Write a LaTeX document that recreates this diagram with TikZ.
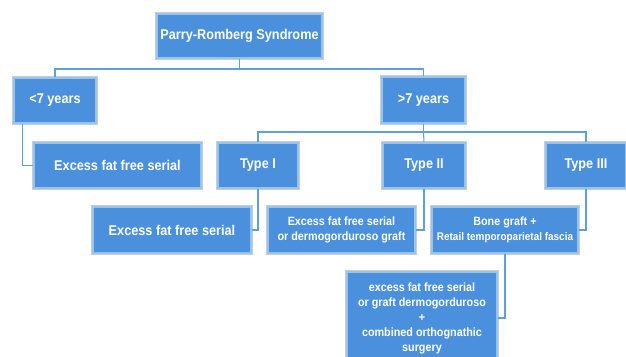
\documentclass[tikz,border=0pt]{standalone}
\usepackage{fontspec}
\setmainfont{Liberation Sans}[FakeStretch=0.9]
\usetikzlibrary{calc}
\definecolor{boxblue}{RGB}{74,144,221}
\definecolor{edgeblue}{RGB}{150,195,240}
\definecolor{edgegray}{RGB}{205,205,205}
\definecolor{linkblue}{RGB}{95,160,220}

\begin{document}
\begin{tikzpicture}[x=0.75pt, y=-0.75pt,
    box/.style={preaction={draw=edgegray, line width=2.6pt}, draw=edgeblue, line width=1.3pt, fill=boxblue, text=white, align=center, inner sep=0pt, font=\bfseries\fontsize{10.6}{12}\selectfont},
    size/.style 2 args={minimum width=#1*0.75pt, minimum height=#2*0.75pt},
    small/.style={font=\bfseries\fontsize{9}{11.25}\selectfont},
    link/.style={draw=linkblue, line width=0.8pt}
]
    \useasboundingbox (0,0) rectangle (626,357);
    \clip (0,0) rectangle (626,357);

    \node[box, size={165}{44}] (root) at (239.5,36) {Parry-Romberg Syndrome};

    \node[box, size={82}{45}] (young) at (55,100.5) {<7 years};
    \node[box, size={83}{46}] (old) at (423.5,100) {>7 years};

    \node[box, size={167}{45}] (fatA) at (117.5,165.5) {Excess fat free serial};
    \node[box, size={80}{45}] (t1) at (258,165.5) {Type I};
    \node[box, size={82}{45}] (t2) at (424,165.5) {Type II};
    \node[box, size={80}{45}] (t3) at (586,165.5) {Type III};

    \node[box, size={158}{46}] (fatB) at (172,230) {Excess fat free serial};
    \node[box, small, size={147}{46}] (fatC) at (341.5,230) {Excess fat free serial\\or dermogorduroso graft};
    \node[box, small, size={146}{46}] (bone) at (505,230) {Bone graft +\\{\fontsize{8.3}{11}\selectfont Retail temporoparietal fascia}};

    \node[box, small, size={150}{92}] (combo) at (422,318) {excess fat free serial\\or graft dermogorduroso\\+\\combined orthognathic\\surgery};

    % joints
    \coordinate (j1) at (239.5,69);
    \coordinate (j2) at (423.5,132);

    \draw[link] (root.south) -- (j1);
    \draw[link] (j1) -| (young.north);
    \draw[link] (j1) -| (old.north);
    \draw[link] ($(young.south west)+(9,0)$) |- (fatA.west);
    \draw[link] (old.south) -- (j2);
    \draw[link] (j2) -| (t1.north);
    \draw[link] (j2) -- (t2.north);
    \draw[link] (j2) -| (t3.north);
    \draw[link] (t1.south) |- (fatB.east);
    \draw[link] (t2.south) |- (fatC.east);
    \draw[link] (t3.south) |- (bone.east);
    \draw[link] (bone.south) |- (combo.east);
\end{tikzpicture}
\end{document}
